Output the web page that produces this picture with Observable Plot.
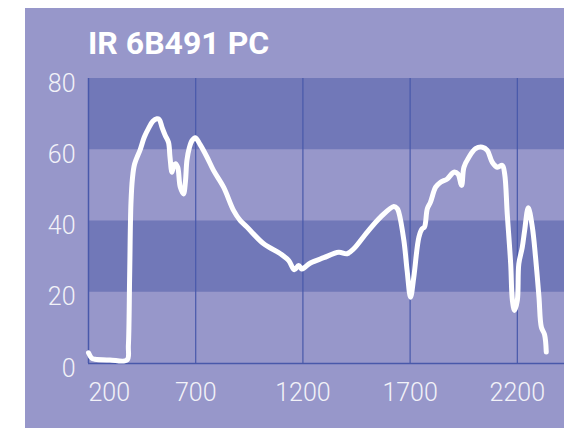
<!DOCTYPE html>
<html>
<head>
<meta charset="utf-8">
<script src="https://cdn.jsdelivr.net/npm/d3@7"></script>
<script src="https://cdn.jsdelivr.net/npm/@observablehq/plot@0.6"></script>
<style>
  html, body { margin: 0; padding: 0; background: #ffffff; }
  #box { position: absolute; left: 25px; top: 8px; width: 539px; height: 420px; background: #9797ca; overflow: hidden; }
  #title { position: absolute; left: 63px; top: 19px; font: bold 32px Roboto, sans-serif; color: #ffffff; line-height: 1; white-space: nowrap; }
  #chart { position: absolute; left: 0; top: 62px; }
  #chart svg { display: block; }
</style>
</head>
<body>
<div id="box">
  <div id="title">IR 6B491 PC</div>
  <div id="chart"></div>
</div>
<script>
const wavenumber = [200, 215, 230, 300, 380, 386, 392, 398, 405, 415, 441, 460, 480, 500, 519, 530, 543, 558, 573, 580, 589, 597, 605, 616, 628, 643, 652, 659, 670, 683, 698, 720, 753, 783, 830, 877, 908, 939, 1017, 1095, 1134, 1160, 1180, 1195, 1207, 1235, 1297, 1367, 1406, 1437, 1500, 1562, 1624, 1640, 1647, 1671, 1686, 1702, 1717, 1741, 1756, 1767, 1780, 1795, 1819, 1842, 1873, 1904, 1923, 1940, 1951, 1974, 2005, 2037, 2060, 2083, 2107, 2130, 2141, 2153, 2169, 2177, 2187, 2200, 2207, 2223, 2234, 2251, 2270, 2285, 2301, 2312, 2327, 2335];
const transmittance = [3, 1.5, 1.2, 1.0, 1.0, 5, 25, 45, 52, 56, 60, 63.5, 66, 68, 68.7, 68.5, 66.3, 64, 62.1, 58, 53.7, 55.5, 56.1, 55.1, 49.5, 47.6, 51, 57, 60.5, 62.6, 63.4, 61.5, 57.9, 54.2, 49.5, 42.9, 40.1, 38.3, 33.6, 30.8, 28.9, 26.3, 27.5, 26.5, 26.9, 28.2, 29.7, 31.2, 30.8, 32.2, 36.9, 41.1, 44.1, 43.5, 42.5, 34.5, 26.1, 18.6, 24.2, 35.5, 37.8, 38.3, 43.4, 45.3, 49.5, 50.9, 51.8, 53.7, 53.2, 50.0, 55.1, 57.9, 60.3, 60.7, 59.8, 56.5, 55.1, 55.6, 53.2, 42, 28, 17.7, 14.9, 17.7, 28, 32.6, 37.3, 43.7, 38.3, 29.8, 18.6, 10.2, 8.1, 3.2];
const xTicks = [200, 700, 1200, 1700, 2200];
const yTicks = [0, 20, 40, 60, 80];
const bandLow = [20, 60];
const bandHigh = [40, 80];

const data = wavenumber.map((w, i) => ({w, t: transmittance[i]}));
const bands = bandLow.map((lo, i) => ({lo, hi: bandHigh[i]}));
const gridColor = "#4858aa";
const labelFont = {fontFamily: "Roboto, sans-serif", fontWeight: 300, fontSize: 25, fill: "#f2f2f8"};

const chart = Plot.plot({
  width: 539,
  height: 350,
  marginLeft: 63,
  marginRight: 0,
  marginTop: 8,
  marginBottom: 57,
  style: {background: "transparent", overflow: "visible"},
  x: {domain: [200, 2420], axis: null},
  y: {domain: [0, 80], axis: null},
  marks: [
    Plot.rect(bands, {y1: "lo", y2: "hi", fill: "#7178b8"}),
    Plot.ruleX(xTicks.slice(1), {stroke: gridColor, strokeWidth: 1.2}),
    Plot.ruleX([200], {stroke: gridColor, strokeWidth: 1.5}),
    Plot.ruleY([0], {stroke: gridColor, strokeWidth: 1.5}),
    Plot.line(data, {x: "w", y: "t", stroke: "#ffffff", strokeWidth: 5, curve: "catmull-rom", strokeLinejoin: "round", strokeLinecap: "round"}),
    Plot.text(xTicks.slice(0, 1), {x: d => d, text: d => String(d), frameAnchor: "bottom", dy: 29, lineAnchor: "middle", textAnchor: "start", ...labelFont}),
    Plot.text(xTicks.slice(1), {x: d => d, text: d => String(d), frameAnchor: "bottom", dy: 29, lineAnchor: "middle", textAnchor: "middle", ...labelFont}),
    Plot.text(yTicks, {y: d => d, text: d => String(d), frameAnchor: "left", dx: -13, dy: 5, lineAnchor: "middle", textAnchor: "end", ...labelFont})
  ]
});
document.getElementById("chart").appendChild(chart);
</script>
</body>
</html>
